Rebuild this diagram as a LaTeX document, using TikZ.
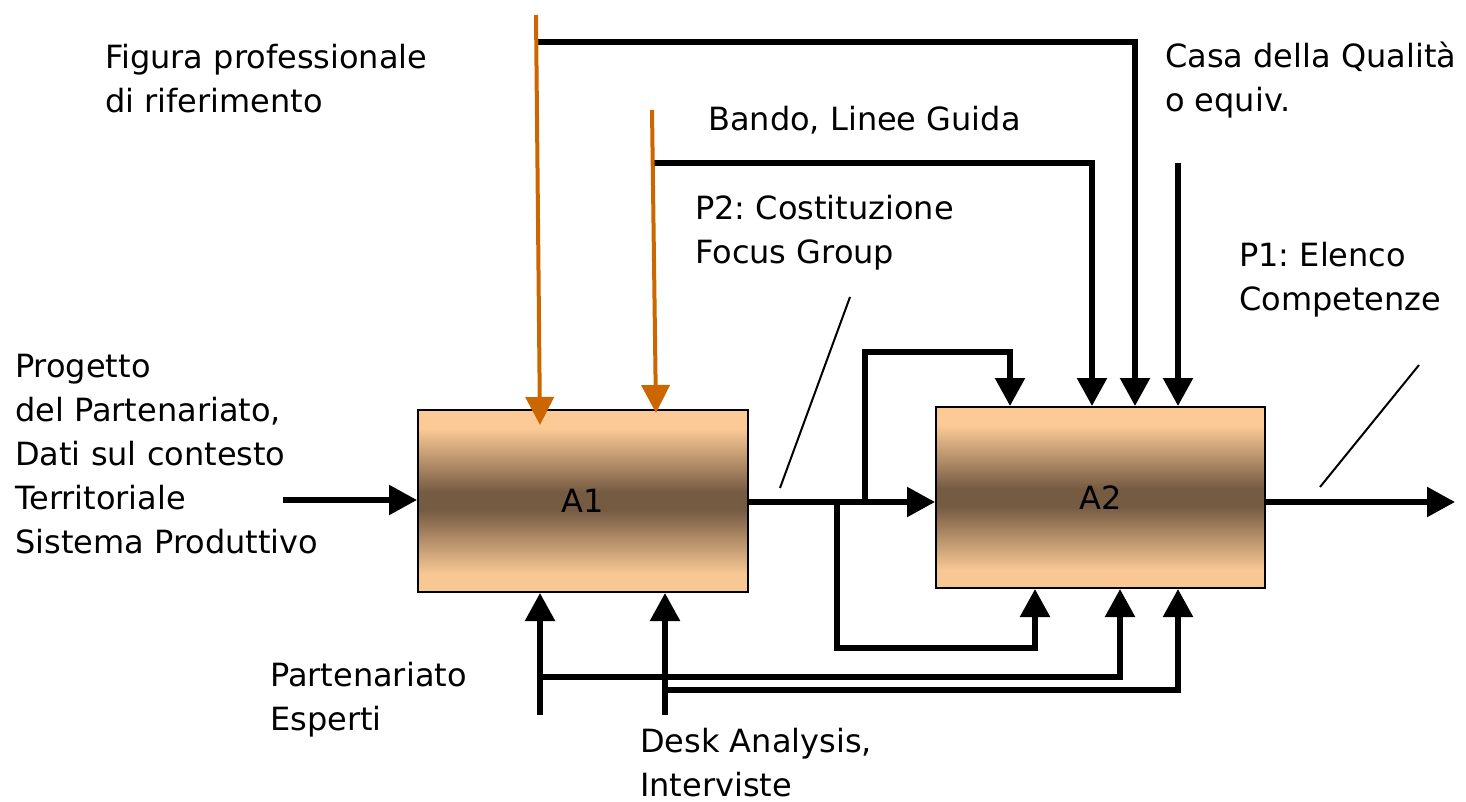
\documentclass[tikz,border=0pt]{standalone}
\usepackage{fontspec}
\setmainfont{DejaVu Sans}
\usetikzlibrary{arrows.meta,calc}
\definecolor{pch}{HTML}{FCCA96}
\definecolor{pchb}{HTML}{F8C894}
\definecolor{brn}{HTML}{765B43}
\definecolor{org}{HTML}{CC6600}
\pgfdeclareverticalshading{idefbox}{100bp}{color(0bp)=(pchb); color(30bp)=(pchb); color(47.5bp)=(brn); color(52.5bp)=(brn); color(70bp)=(pch); color(100bp)=(pch)}
\newcommand\lblfont{\fontsize{32}{44}\selectfont}
\frenchspacing
\tikzset{
  lbl/.style={font=\lblfont, align=left, inner sep=0pt, anchor=north west},
  actbox/.style={draw=black, line width=2pt, shading=idefbox, minimum width=330pt, minimum height=182pt, inner sep=0pt, font=\lblfont},
  flow/.style={line width=5.5pt, -{Triangle[length=28pt,width=29pt]}},
  oflow/.style={draw=org, line width=4pt, -{Triangle[length=28pt,width=28pt]}, org},
  leader/.style={line width=2pt}
}
\begin{document}
\frenchspacing
\begin{tikzpicture}[x=1pt,y=-1pt]
\useasboundingbox (0,0) rectangle (1466,802);

% boxes
\node[actbox] (A1) at (583,501) {A1};
\node[actbox, minimum width=329pt, minimum height=181pt] (A2) at (1100.5,497.5) {A2};

% labels
\node[lbl] (lFig) at (105,37.2) {\strut Figura professionale\\di riferimento};
\node[lbl] (lBan) at (708,99.2) {\strut Bando, Linee Guida};
\node[lbl] (lCas) at (1165,36.2) {\strut Casa della Qualità\\o equiv.};
\node[lbl] (lP2) at (695,189) {\strut P2: Costituzione\\Focus Group};
\node[lbl] (lP1) at (1239,235.2) {\strut P1: Elenco\\Competenze};
\node[lbl] (lPro) at (15,346.2) {\strut Progetto\\del Partenariato,\\Dati sul contesto\\Territoriale\\Sistema Produttivo};
\node[lbl] (lPar) at (270,655.2) {\strut Partenariato\\Esperti};
\node[lbl] (lDes) at (640,721) {\strut Desk Analysis,\\Interviste};

% input
\coordinate (inS) at (283,500);
\draw[flow] (inS) -- (inS -| A1.west);

% A1 -> A2
\coordinate (jU) at (865,502);
\coordinate (jD) at (837,502);
\draw[flow] (A1.east |- jU) -- (A2.west |- jU);
\coordinate (u1) at (1010,352);
\draw[flow] (jU) |- (u1) -- (u1 |- A2.north);
\coordinate (d1) at (1035,648);
\draw[flow] (jD) |- (d1) -- (d1 |- A2.south);

% controls on A2
\coordinate (t0) at (538,42);
\coordinate (t1) at (1135,42);
\draw[flow] (t0) -- (t1) -- (t1 |- A2.north);
\coordinate (b0) at (652,163);
\coordinate (b1) at (1092,163);
\draw[flow] (b0) -- (b1) -- (b1 |- A2.north);
\coordinate (c0) at (1178,163);
\draw[flow] (c0) -- (c0 |- A2.north);

% orange controls on A1
\coordinate (o1s) at (536,15);
\coordinate (o1e) at (540,425);
\draw[oflow] (o1s) -- (o1e);
\coordinate (o2s) at (652,110);
\coordinate (o2e) at (656,413);
\draw[oflow] (o2s) -- (o2e);

% mechanisms
\coordinate (p0) at (540,715);
\draw[flow] (p0) -- (p0 |- A1.south);
\coordinate (p1) at (540,677);
\coordinate (p2) at (1120,677);
\draw[flow] (p1) -- (p2) -- (p2 |- A2.south);
\coordinate (q0) at (665,715);
\draw[flow] (q0) -- (q0 |- A1.south);
\coordinate (q1) at (665,690);
\coordinate (q2) at (1178,690);
\draw[flow] (q1) -- (q2) -- (q2 |- A2.south);

% output
\coordinate (outE) at (1455,502);
\draw[flow] (A2.east |- outE) -- (outE);

% leaders
\coordinate (ld1a) at (850,297);
\coordinate (ld1b) at (780,488);
\draw[leader] (ld1a) -- (ld1b);
\coordinate (ld2a) at (1419,365);
\coordinate (ld2b) at (1320,487);
\draw[leader] (ld2a) -- (ld2b);
\end{tikzpicture}
\end{document}
